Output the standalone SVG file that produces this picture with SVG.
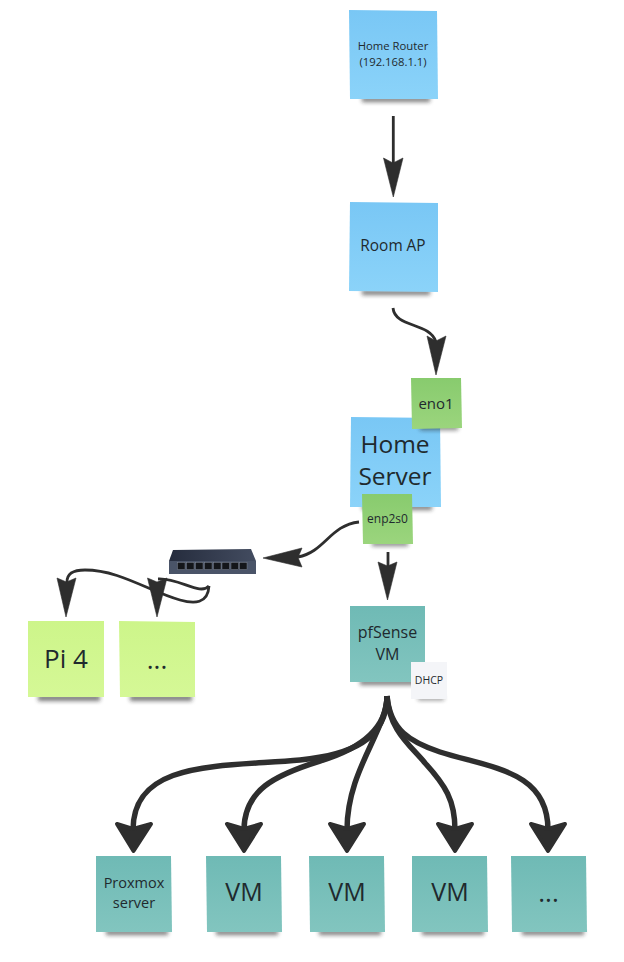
<svg xmlns="http://www.w3.org/2000/svg" width="624" height="962" viewBox="0 0 624 962">
<style>
text{font-family:"Open Sans","Noto Sans","Liberation Sans",sans-serif;fill:#1f2a2e;text-anchor:middle}
.sh{fill:#222;opacity:.6;filter:url(#blur)}
.blue{fill:url(#gBlue)}.green{fill:url(#gGreen)}.lime{fill:url(#gLime)}.teal{fill:url(#gTeal)}.white{fill:#f4f5f8}
.thin{fill:none;stroke:#2e2e2e;stroke-width:2.8;stroke-linecap:butt}
.thick{fill:none;stroke:#2e2e2e;stroke-width:5.5;stroke-linecap:butt}
.head{fill:#2e2e2e;stroke:#2e2e2e;stroke-width:.6;stroke-linejoin:miter}
.headr{fill:#2e2e2e;stroke:#2e2e2e;stroke-width:4;stroke-linejoin:round}
.port{fill:#14161a;stroke:#8d94a0;stroke-width:.4}
</style>
<defs>
<filter id="blur" x="-20%" y="-150%" width="140%" height="400%"><feGaussianBlur stdDeviation="2.200"/></filter>
<linearGradient id="gBlue" x1="0" y1="0" x2="0" y2="1"><stop offset="0" stop-color="#79c7f5"/><stop offset="1" stop-color="#8bd3f9"/></linearGradient>
<linearGradient id="gGreen" x1="0" y1="0" x2="0" y2="1"><stop offset="0" stop-color="#88cb6e"/><stop offset="1" stop-color="#9bd57d"/></linearGradient>
<linearGradient id="gLime" x1="0" y1="0" x2="0" y2="1"><stop offset="0" stop-color="#cdf58a"/><stop offset="1" stop-color="#d5f896"/></linearGradient>
<linearGradient id="gTeal" x1="0" y1="0" x2="0" y2="1"><stop offset="0" stop-color="#6fbab5"/><stop offset="1" stop-color="#82c5bf"/></linearGradient>
<linearGradient id="gSw" x1="0" y1="0" x2="1" y2="0"><stop offset="0" stop-color="#252c3d"/><stop offset="1" stop-color="#434c60"/></linearGradient>
</defs>

<g id="home-router">
<rect class="sh" x="362" y="97" width="68" height="5"/>
<polygon class="blue" points="349,10 437,11 438,99 350,99"/>
<text x="393" y="50" font-size="11.300">Home Router</text>
<text x="393" y="66" font-size="11.300">(192.168.1.1)</text>
</g>
<g id="room-ap">
<rect class="sh" x="362" y="290" width="68" height="5"/>
<polygon class="blue" points="350,202 438,203 438,292 349,291"/>
<text x="393" y="251" font-size="15.400">Room AP</text>
</g>
<g id="home-server">
<rect class="sh" x="362" y="505" width="70" height="5"/>
<polygon class="blue" points="351,417 440,418 441,507 350,507"/>
<text x="395" y="453" font-size="24.500">Home</text>
<text x="395" y="485" font-size="24.500">Server</text>
</g>
<g id="eno1">
<rect class="sh" x="420" y="426" width="38" height="4"/>
<polygon class="green" points="411,378 461,378 462,428 412,429"/>
<text x="436" y="409" font-size="15">eno1</text>
</g>
<g id="enp2s0">
<rect class="sh" x="372" y="542" width="36" height="4"/>
<polygon class="green" points="362,494 412,494 413,544 363,544"/>
<text x="387.500" y="523" font-size="12">enp2s0</text>
</g>
<g id="switch">
<polygon points="173,550 251,549 256,561 169,561" fill="url(#gSw)"/>
<rect x="169" y="561" width="87" height="13" fill="#4a5468"/>
<rect class="port" x="177.500" y="562.500" width="7.500" height="7"/>
<rect class="port" x="186.500" y="562.500" width="7.500" height="7"/>
<rect class="port" x="195.500" y="562.500" width="7.500" height="7"/>
<rect class="port" x="204.500" y="562.500" width="7.500" height="7"/>
<rect class="port" x="213.500" y="562.500" width="7.500" height="7"/>
<rect class="port" x="222" y="562.500" width="7.500" height="7"/>
<rect class="port" x="231" y="562.500" width="7.500" height="7"/>
<rect class="port" x="239.500" y="562.500" width="7.500" height="7"/>
</g>
<g id="pfsense">
<rect class="sh" x="360" y="680" width="62" height="5"/>
<polygon class="teal" points="350,606 425,606 425,682 350,682"/>
<text x="387.500" y="638" font-size="16">pfSense</text>
<text x="387.500" y="660" font-size="16">VM</text>
</g>
<g id="dhcp">
<rect class="sh" x="418" y="697" width="26" height="3"/>
<polygon class="white" points="411,662 447,662 447,699 411,699"/>
<text x="429" y="684" font-size="10.500">DHCP</text>
</g>
<g id="pi4">
<rect class="sh" x="38" y="695" width="62" height="6"/>
<polygon class="lime" points="28,621 104,621 104,697 28,697"/>
<text x="66" y="668" font-size="26">Pi 4</text>
</g>
<g id="pi-more">
<rect class="sh" x="130" y="695" width="62" height="6"/>
<polygon class="lime" points="119,621 195,622 195,697 120,697"/>
<text x="157" y="669" font-size="26">...</text>
</g>
<g id="proxmox">
<rect class="sh" x="106" y="930" width="62" height="5"/>
<polygon class="teal" points="96,856 171,856 172,932 96,932"/>
<text x="134" y="888" font-size="14.500">Proxmox</text>
<text x="134" y="908" font-size="14.500">server</text>
</g>
<g id="vm1">
<rect class="sh" x="216" y="930" width="62" height="5"/>
<polygon class="teal" points="206,856 281,856 282,932 207,932"/>
<text x="244" y="901" font-size="25">VM</text>
</g>
<g id="vm2">
<rect class="sh" x="319" y="930" width="62" height="5"/>
<polygon class="teal" points="309,856 384,856 385,932 310,932"/>
<text x="347" y="901" font-size="25">VM</text>
</g>
<g id="vm3">
<rect class="sh" x="422" y="930" width="62" height="5"/>
<polygon class="teal" points="412,856 487,856 488,932 412,932"/>
<text x="450" y="901" font-size="25">VM</text>
</g>
<g id="vm-more">
<rect class="sh" x="522" y="930" width="62" height="5"/>
<polygon class="teal" points="511,856 586,856 587,932 512,932"/>
<text x="548.500" y="902" font-size="26">...</text>
</g>

<g id="connectors">
<path class="thin" d="M393.300,116V165"/>
<polygon class="head" points="383.500,158 393,163 403,158 393.300,197"/>
<path class="thin" d="M393,308C395,328 430,322 436,342"/>
<polygon class="head" points="427,336 436,341 446,336 436,375"/>
<path class="thin" d="M359,522C330,525 325,552 298,557"/>
<polygon class="head" points="302,548 298,557.500 302,567 263,558"/>
<path class="thin" d="M209,586C208,604 194,604 180,600C150,592 120,570 85,570C72,570 67,574 67,582"/>
<polygon class="head" points="57,578 66.500,582 76,578 66,617"/>
<path class="thin" d="M209,586C200,596 180,578 158,579"/>
<polygon class="head" points="147.500,578 157,582 167,578 157,617"/>
<path class="thin" d="M388,552V584"/>
<polygon class="head" points="378,562 387.500,566 397,562 387.500,600"/>
<path class="thick" d="M387,696C387,740 350,755 300,760C220,767 133,760 133,830"/>
<path class="thick" d="M387,696C387,735 350,752 320,761C275,775 244,790 244,830"/>
<path class="thick" d="M387,696C387,730 347,770 347,830"/>
<path class="thick" d="M387,696C389,730 410,745 425,763C445,785 455,800 455,830"/>
<path class="thick" d="M387,696C390,730 410,742 440,752C490,768 548,770 548,830"/>
<polygon class="headr" points="117,824 133,829 151,824 133.500,851"/>
<polygon class="headr" points="227,824 244,829 261,824 244,851"/>
<polygon class="headr" points="330,824 347,829 364,824 347,851"/>
<polygon class="headr" points="438,824 455,829 472,824 455,851"/>
<polygon class="headr" points="531,824 548,829 565,824 548,851"/>
</g>
</svg>
